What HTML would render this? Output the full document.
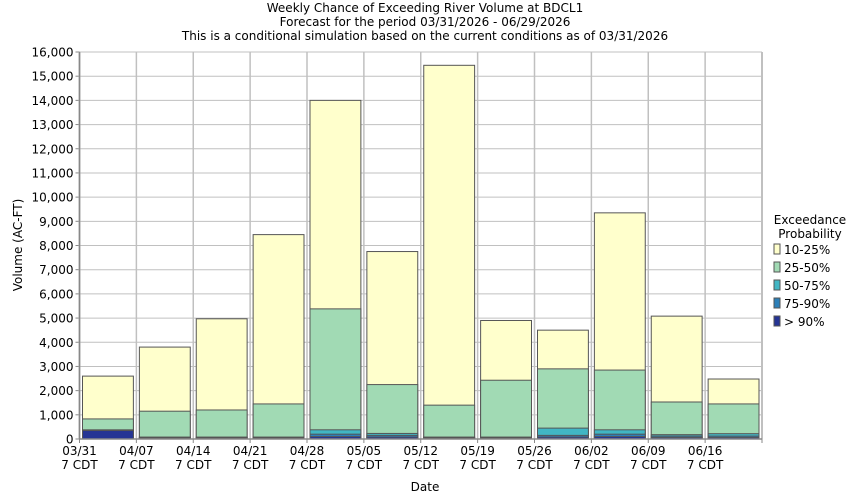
<!DOCTYPE html>
<html><head><meta charset="utf-8"><style>
body{margin:0;background:#fff;}
svg{display:block;font-family:"DejaVu Sans","Liberation Sans",sans-serif;}
</style></head><body>
<svg id="s" width="850" height="500" xmlns="http://www.w3.org/2000/svg">
<rect width="850" height="500" fill="#fff"/>
<text x="425" y="12" font-size="12" text-anchor="middle">Weekly Chance of Exceeding River Volume at BDCL1</text>
<text x="425" y="26" font-size="12" text-anchor="middle">Forecast for the period 03/31/2026 - 06/29/2026</text>
<text x="425" y="40" font-size="12" text-anchor="middle">This is a conditional simulation based on the current conditions as of 03/31/2026</text>
<g id="g"></g>
<text x="425" y="491" font-size="12" text-anchor="middle">Date</text>
<text transform="translate(22,245) rotate(-90)" font-size="12" text-anchor="middle">Volume (AC-FT)</text>
<text x="810" y="224" font-size="12" text-anchor="middle">Exceedance</text>
<text x="810" y="238" font-size="12" text-anchor="middle">Probability</text>
</svg>
<script>
(function(){
var g=document.getElementById('g'),h='';
var L=79.5,R=762,T=52,B=439;
function Y(v){return B-v*(B-T)/16000;}
for(var v=0;v<=16000;v+=1000){var yy=Y(v);
h+='<line x1="'+L+'" x2="'+R+'" y1="'+yy+'" y2="'+yy+'" stroke="#c0c0c0"/>';
h+='<line x1="'+(L-4)+'" x2="'+L+'" y1="'+yy+'" y2="'+yy+'" stroke="#888"/>';
h+='<text x="'+(L-6)+'" y="'+(yy+4.5)+'" font-size="12" text-anchor="end">'+v.toLocaleString('en-US')+'</text>';}
var w=(R-L)/12;
var labs=['03/31','04/07','04/14','04/21','04/28','05/05','05/12','05/19','05/26','06/02','06/09','06/16'];
for(var i=0;i<=12;i++){var x=L+i*w;
h+='<line x1="'+x+'" x2="'+x+'" y1="'+T+'" y2="'+B+'" stroke="#c0c0c0" stroke-width="'+(i==0||i==12?2:1.5)+'"/>';
h+='<line x1="'+x+'" x2="'+x+'" y1="'+B+'" y2="'+(B+4)+'" stroke="#888"/>';
if(i<12){h+='<text x="'+x+'" y="'+(B+16)+'" font-size="12" text-anchor="middle">'+labs[i]+'</text><text x="'+x+'" y="'+(B+30)+'" font-size="12" text-anchor="middle">7 CDT</text>';}}
var d=[[2600,830,380,370,350],[3800,1150,80,60,40],[4970,1200,80,60,40],[8450,1450,80,60,40],[14000,5380,380,200,100],[7750,2250,230,150,80],[15450,1400,80,60,40],[4900,2430,80,60,40],[4500,2900,450,150,80],[9350,2850,380,200,100],[5080,1530,180,120,60],[2480,1450,220,120,60]];
var c=['#ffffcc','#a1dab4','#41b6c4','#2c7fb8','#253494'];
for(var i=0;i<12;i++){var x0=L+i*w+3,bw=w-6;
for(var k=0;k<5;k++){var tp=Y(d[i][k]);
h+='<rect x="'+x0+'" y="'+tp+'" width="'+bw+'" height="'+(B-tp)+'" fill="'+c[k]+'" stroke="#555" stroke-width="1"/>';}}
h+='<line x1="'+L+'" x2="'+L+'" y1="'+T+'" y2="'+B+'" stroke="#888" stroke-width="1.5"/>';
h+='<line x1="'+L+'" x2="'+R+'" y1="'+B+'" y2="'+B+'" stroke="#888" stroke-width="1.5"/>';
var ll=['10-25%','25-50%','50-75%','75-90%','> 90%'];
for(var k=0;k<5;k++){var yy=244+k*18;
h+='<rect x="774" y="'+yy+'" width="6" height="10" fill="'+c[k]+'" stroke="#555"/>';
h+='<text x="784" y="'+(yy+10)+'" font-size="12">'+ll[k].replace('>','&gt;')+'</text>';}
g.innerHTML=h;
})();
</script>
</body></html>
